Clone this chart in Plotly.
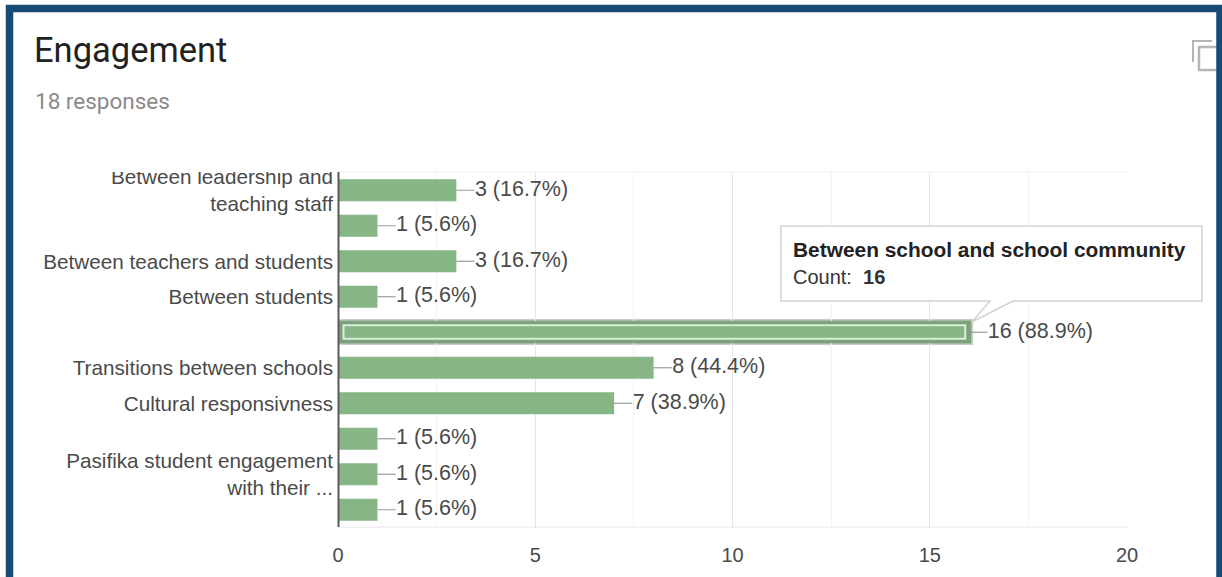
import plotly.graph_objects as go

tick_labels = ["Between leadership and<br>teaching staff", "", "Between teachers and students", "Between students", "",
               "Transitions between schools", "Cultural responsivness", "", "Pasifika student engagement<br>with their ...", ""]
counts = [3, 1, 3, 1, 16, 8, 7, 1, 1, 1]
value_labels = ["3 (16.7%)", "1 (5.6%)", "3 (16.7%)", "1 (5.6%)", "16 (88.9%)",
                "8 (44.4%)", "7 (38.9%)", "1 (5.6%)", "1 (5.6%)", "1 (5.6%)"]
positions = list(range(len(counts)))
highlight_index = 4
tooltip_title = "Between school and school community"
tooltip_count = 16

W, H = 1222, 577
px = lambda x: x / W
py = lambda y: 1 - y / H
GREEN = "#86b586"
TXT = "#4a4a4a"
FONT = "Liberation Sans"

fig = go.Figure()
fig.add_trace(go.Bar(x=counts, y=positions, orientation="h", width=0.62,
                     marker=dict(color=GREEN, line=dict(width=0)), hoverinfo="skip"))
lx, ly = [], []
for v, p in zip(counts, positions):
    lx += [v, v + 0.46, None]
    ly += [p, p, None]
fig.add_trace(go.Scatter(x=lx, y=ly, mode="lines", line=dict(color="#9a9a9a", width=1.2), hoverinfo="skip"))
fig.add_trace(go.Scatter(x=[v + 0.47 for v in counts], y=[p + 0.01 for p in positions], mode="text", text=value_labels,
                         textposition="middle right", textfont=dict(family=FONT, size=21.5, color=TXT),
                         hoverinfo="skip", cliponaxis=False))

hv = counts[highlight_index]
hp = positions[highlight_index]
shapes = [
    dict(type="rect", xref="x", yref="y", x0=0.03, x1=hv + 0.1, y0=hp - 0.37, y1=hp + 0.36,
         fillcolor="#c3d0c3", line=dict(width=0), layer="below"),
    dict(type="rect", xref="x", yref="y", x0=0.03, x1=hv + 0.05, y0=hp - 0.33, y1=hp + 0.32,
         fillcolor="#8aa58a", line=dict(width=0), layer="below"),
    dict(type="rect", xref="x", yref="y", x0=0.03, x1=hv + 0.05, y0=hp - 0.3, y1=hp + 0.3,
         fillcolor="#7fa07f", line=dict(width=0)),
    dict(type="rect", xref="x", yref="y", x0=0.14, x1=hv - 0.1, y0=hp - 0.2, y1=hp + 0.18,
         fillcolor=GREEN, line=dict(color="#d6f0d6", width=2)),
    dict(type="rect", xref="paper", yref="paper", x0=px(30), x1=px(336), y0=py(172), y1=py(150),
         fillcolor="white", line=dict(width=0)),
    dict(type="path", xref="paper", yref="paper",
         path=f"M {px(781)} {py(226)} L {px(1202)} {py(226)} L {px(1202)} {py(301)} L {px(1013)} {py(301)} "
              f"L {px(972)} {py(322)} L {px(990)} {py(301)} L {px(781)} {py(301)} Z",
         fillcolor="white", line=dict(color="#d2d2d2", width=1.5)),
    dict(type="path", xref="paper", yref="paper",
         path=f"M {px(1193)} {py(62)} L {px(1193)} {py(41)} L {px(1212)} {py(41)}",
         line=dict(color="#b5b5b5", width=2)),
    dict(type="rect", xref="paper", yref="paper", x0=px(1199), x1=px(1222), y0=py(70), y1=py(47),
         line=dict(color="#b5b5b5", width=2.5)),
    dict(type="path", xref="paper", yref="paper",
         path=f"M {px(9.5)} {py(600)} L {px(9.5)} {py(8.5)} L {px(1220)} {py(8.5)} L {px(1220)} {py(600)}",
         line=dict(color="#174a75", width=7.5)),
    dict(type="line", xref="paper", yref="paper", x0=px(338.5), x1=px(338.5), y0=py(527), y1=py(172),
         line=dict(color="#5a5a5a", width=2)),
]

annotations = [
    dict(text="Engagement", x=px(32), y=py(50), xref="paper", yref="paper", showarrow=False, xanchor="left",
         yanchor="middle", font=dict(family="Roboto", size=34.5, color="#212121")),
    dict(text="18 responses", x=px(33), y=py(101), xref="paper", yref="paper", showarrow=False, xanchor="left",
         yanchor="middle", font=dict(family="Roboto", size=22.5, color="#8a8a8a")),
    dict(text=f"<b>{tooltip_title}</b>", x=px(791), y=py(249), xref="paper", yref="paper", showarrow=False,
         xanchor="left", yanchor="middle", font=dict(family=FONT, size=20.9, color="#222222")),
    dict(text=f"Count:  <b>{tooltip_count}</b>", x=px(791), y=py(277), xref="paper", yref="paper", showarrow=False,
         xanchor="left", yanchor="middle", font=dict(family=FONT, size=20, color="#333333")),
]

fig.update_layout(
    width=W, height=H, margin=dict(l=0, r=0, t=0, b=0, autoexpand=False), paper_bgcolor="white", plot_bgcolor="white",
    showlegend=False, shapes=shapes, annotations=annotations, barmode="overlay",
    xaxis=dict(domain=[px(338), px(1127)], range=[0, 20], dtick=5, tick0=0, showgrid=True, gridcolor="#e4e4e4",
               gridwidth=1, zeroline=False, showline=False, ticks="", ticklabelstandoff=13,
               tickfont=dict(family=FONT, size=20, color=TXT),
               minor=dict(dtick=2.5, tick0=0, showgrid=True, gridcolor="#f2f2f2", gridwidth=1)),
    yaxis=dict(domain=[py(527.5), py(172.5)], range=[9.5, -0.5], tickmode="array", tickvals=positions,
               ticktext=tick_labels, showgrid=False, zeroline=False, showline=False, ticks="", ticklabelstandoff=4,
               tickfont=dict(family=FONT, size=20.7, color=TXT)),
)
fig.add_shape(type="line", xref="paper", yref="paper", x0=px(338), x1=px(1127), y0=py(172), y1=py(172),
              line=dict(color="#eeeeee", width=1), layer="below")
fig.add_shape(type="line", xref="paper", yref="paper", x0=px(338), x1=px(1127), y0=py(527), y1=py(527),
              line=dict(color="#e6e6e6", width=1), layer="below")

fig.write_html("out.html", config={"displayModeBar": False},
               post_script="document.body.style.margin='0';document.body.style.overflow='hidden';")
